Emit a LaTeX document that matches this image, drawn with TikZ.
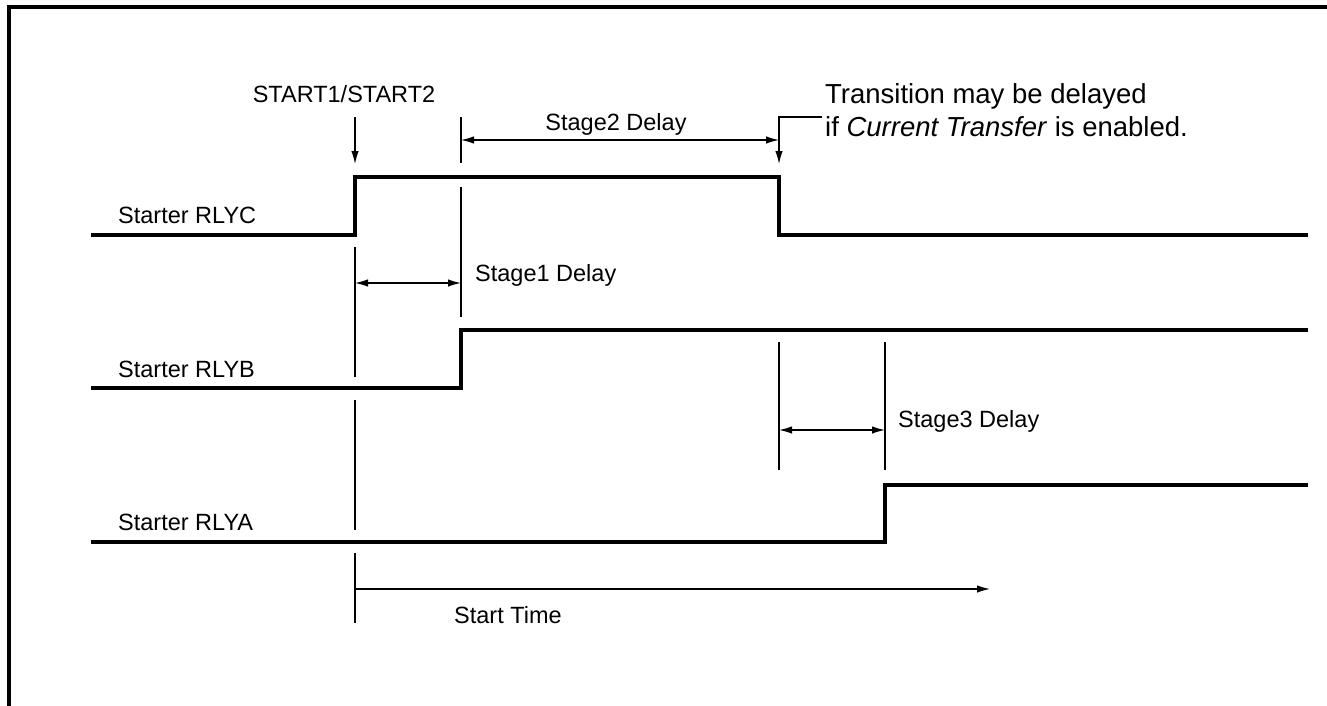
\documentclass[tikz,border=0pt]{standalone}
\usepackage{fontspec}
\setmainfont{Liberation Sans}
\usetikzlibrary{arrows.meta}
\begin{document}
\begin{tikzpicture}[x=1pt,y=-1pt,
  sig/.style={line width=4.6pt, line join=miter, line cap=butt},
  fine/.style={line width=1.3pt},
  tip/.style={-{Latex[length=13pt,width=7.5pt]}},
  dimline/.style={fine, {Latex[length=13pt,width=7.5pt]}-{Latex[length=13pt,width=7.5pt]}},
  lbl/.style={font=\fontsize{23.5}{28}\selectfont, inner sep=0pt, anchor=base west},
  note/.style={font=\fontsize{27.5}{32}\selectfont, inner sep=0pt, anchor=base west},
]
\useasboundingbox (0,0) rectangle (1327,706);
% frame (top and left)
\coordinate (fTL) at (8.5,7.5);
\coordinate (fTR) at (1327,7.5);
\coordinate (fBL) at (8.5,706);
\draw[line width=4pt] (fTR) -- (fTL) -- (fBL);

% signal corners
\coordinate (c0) at (91,235);  \coordinate (c1) at (355,235);
\coordinate (c2) at (355,177); \coordinate (c3) at (779,177);
\coordinate (c4) at (779,235); \coordinate (c5) at (1308,235);
\coordinate (b0) at (91,388);  \coordinate (b1) at (461,388);
\coordinate (b2) at (461,330); \coordinate (b3) at (1308,330);
\coordinate (a0) at (91,542);  \coordinate (a1) at (885,542);
\coordinate (a2) at (885,485); \coordinate (a3) at (1308,485);
\draw[sig] (c0) -- (c1) -- (c2) -- (c3) -- (c4) -- (c5);
\draw[sig] (b0) -- (b1) -- (b2) -- (b3);
\draw[sig] (a0) -- (a1) -- (a2) -- (a3);

% labels
\node[lbl] (lc) at (118,223) {Starter RLYC};
\node[lbl] (lb) at (118,377) {Starter RLYB};
\node[lbl] (la) at (118,530) {Starter RLYA};

% START1/START2 arrow
\node[lbl, anchor=base] (start) at (344,103) {START1/START2};
\coordinate (s0) at (355,117); \coordinate (s1) at (355,164);
\draw[fine, tip] (s0) -- (s1);

% Stage2
\coordinate (t2a) at (461,117); \coordinate (t2b) at (461,163);
\draw[fine] (t2a) -- (t2b);
\coordinate (d2l) at (461,140); \coordinate (d2r) at (779,140);
\draw[dimline] (d2l) -- (d2r);
\node[lbl, anchor=base] (st2) at (616,131) {Stage2 Delay};

% annotation
\node[note] (n1) at (825,104) {Transition may be delayed};
\node[note] (n2) at (825,136) {if \textit{Current Transfer} is enabled.};
\coordinate (n0) at (822,117); \coordinate (nk) at (779,117); \coordinate (ne) at (779,164);
\draw[fine, tip] (n0) -- (nk) -- (ne);

% Stage1
\coordinate (v1a) at (355,247); \coordinate (v1b) at (355,377);
\coordinate (v1c) at (355,400); \coordinate (v1d) at (355,530);
\coordinate (v1e) at (355,553); \coordinate (v1f) at (355,623);
\draw[fine] (v1a) -- (v1b);
\draw[fine] (v1c) -- (v1d);
\draw[fine] (v1e) -- (v1f);
\coordinate (v2a) at (461,187); \coordinate (v2b) at (461,317);
\draw[fine] (v2a) -- (v2b);
\coordinate (d1l) at (355,283); \coordinate (d1r) at (461,283);
\draw[dimline] (d1l) -- (d1r);
\node[lbl] (st1) at (475,281) {Stage1 Delay};

% Stage3
\coordinate (v3a) at (779,342); \coordinate (v3b) at (779,470);
\coordinate (v4a) at (885,342); \coordinate (v4b) at (885,470);
\draw[fine] (v3a) -- (v3b);
\draw[fine] (v4a) -- (v4b);
\coordinate (d3l) at (779,430); \coordinate (d3r) at (885,430);
\draw[dimline] (d3l) -- (d3r);
\node[lbl] (st3) at (898,427) {Stage3 Delay};

% Start Time
\coordinate (tt0) at (355,589); \coordinate (tt1) at (990,589);
\draw[fine, tip] (tt0) -- (tt1);
\node[lbl] (stt) at (454,623) {Start Time};
\end{tikzpicture}
\end{document}
